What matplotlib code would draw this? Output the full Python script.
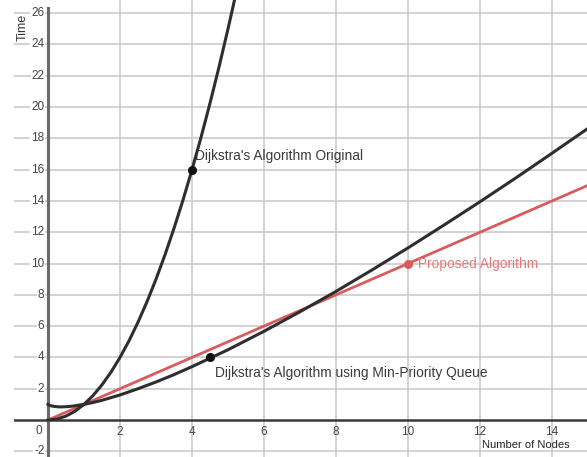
import matplotlib.pyplot as plt

plt.rcParams["font.family"] = ["Liberation Sans", "DejaVu Sans"]

# readings
orig_x = [0, 0.25, 0.5, 0.75, 1, 1.25, 1.5, 1.75, 2, 2.25, 2.5, 2.75, 3, 3.25, 3.5, 3.75,
          4, 4.25, 4.5, 4.75, 5, 5.2]
orig_y = [0, 0.06, 0.25, 0.56, 1, 1.56, 2.25, 3.06, 4, 5.06, 6.25, 7.56, 9, 10.56, 12.25, 14.06,
          16, 18.06, 20.25, 22.56, 25, 27.04]

pq_x = [0, 0.05, 0.1, 0.2, 0.3, 0.37, 0.5, 0.7, 1, 1.25, 1.5, 1.75, 2, 2.5, 3, 3.5, 4, 5, 6, 7, 8,
        9, 10, 11, 12, 13, 14, 15]
pq_y = [1, 0.93, 0.90, 0.86, 0.84, 0.84, 0.85, 0.89, 1, 1.12, 1.26, 1.43, 1.60, 2.0, 2.43, 2.90,
        3.41, 4.49, 5.67, 6.92, 8.22, 9.59, 11, 12.46, 13.95, 15.48, 17.05, 18.64]

prop_x = [0, 15]
prop_y = [0, 15]

pts_black = [(4, 16), (4.5, 4)]
pt_red = (10, 10)

xticks = [2, 4, 6, 8, 10, 12, 14]
yticks = [-2, 2, 4, 6, 8, 10, 12, 14, 16, 18, 20, 22, 24, 26]

fig = plt.figure(figsize=(5.87, 4.57), dpi=100)
ax = fig.add_axes([14 / 587, 0, 573 / 587, 1])
ax.set_xlim(-0.944, 14.97)
ax.set_ylim(-2.364, 26.84)
for s in ax.spines.values():
    s.set_visible(False)
ax.set_xticks([])
ax.set_yticks([])

grid_c = "#cfcfcf"
for x in xticks:
    ax.axvline(x, color=grid_c, lw=1.3, zorder=0)
for y in yticks:
    ax.axhline(y, color=grid_c, lw=1.3, zorder=0)
ax.axhline(0, color="#3a3a3a", lw=1.8, zorder=1)
ax.axvline(0, ymax=0.982, color="#6a6a6a", lw=2.2, zorder=1)

lab_c = "#444444"
for x in xticks:
    ax.text(x, -0.4, str(x), ha="center", va="top", fontsize=8.5, color=lab_c)
ax.text(-0.15, -0.3, "0", ha="right", va="top", fontsize=8.5, color=lab_c)
for y in yticks:
    ax.text(-0.1, y, str(y), ha="right", va="center", fontsize=8.5, color=lab_c,
            bbox=dict(facecolor="white", edgecolor="none", pad=0.6))

ax.text(-0.7, 25.1, "Time", rotation=90, ha="center", va="center", fontsize=9, color="#333333")
ax.text(14.5, -1.6, "Number of Nodes", ha="right", va="center", fontsize=8, color="#222222")

ax.plot(prop_x, prop_y, color="#d95c5c", lw=2, zorder=3)
ax.plot(orig_x, orig_y, color="#2e2e2e", lw=2.2, zorder=4)
ax.plot(pq_x, pq_y, color="#2e2e2e", lw=2.2, zorder=4)

for px, py in pts_black:
    ax.plot(px, py, "o", color="#111111", ms=5.5, zorder=5)
ax.plot(*pt_red, "o", color="#d95c5c", ms=5.5, zorder=5)

ax.text(4.08, 16.9, "Dijkstra's Algorithm Original", ha="left", va="center", fontsize=9.9, color="#3a3a3a")
ax.text(4.63, 3.0, "Dijkstra's Algorithm using Min-Priority Queue", ha="left", va="center",
        fontsize=9.9, color="#3a3a3a")
ax.text(10.27, 10, "Proposed Algorithm", ha="left", va="center", fontsize=9.9, color="#e57b7b")

fig.savefig("out.png", dpi=100)
